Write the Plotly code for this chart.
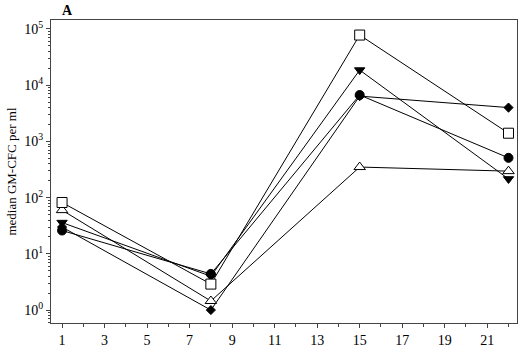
import plotly.graph_objects as go

days = [1, 8, 15, 22]
square_vals = [82, 2.9, 78000, 1400]
tri_up_vals = [60, 1.45, 350, 296]
tri_down_vals = [36, 4.0, 18600, 215]
circle_vals = [26, 4.4, 6700, 510]
diamond_vals = [30, 1.0, 6400, 4000]

x_tick_vals = [1, 3, 5, 7, 9, 11, 13, 15, 17, 19, 21]
y_tick_vals = [1, 10, 100, 1000, 10000, 100000]
y_tick_text = ["10<sup>0</sup>", "10<sup>1</sup>", "10<sup>2</sup>", "10<sup>3</sup>",
               "10<sup>4</sup>", "10<sup>5</sup>"]

series = [
    (diamond_vals, "diamond", "black", 7),
    (circle_vals, "circle", "black", 9),
    (tri_down_vals, "triangle-down", "black", 9),
    (tri_up_vals, "triangle-up", "white", 10),
    (square_vals, "square", "white", 10),
]

fig = go.Figure()
for vals, sym, col, sz in series:
    fig.add_trace(go.Scatter(
        x=days, y=vals, mode="lines+markers",
        line=dict(color="black", width=1),
        marker=dict(symbol=sym, color=col, size=sz, line=dict(color="black", width=1)),
        showlegend=False, cliponaxis=False,
    ))

font_family = "Liberation Serif, Times New Roman, serif"
fig.update_layout(
    width=520, height=349,
    margin=dict(l=51, r=3, t=20, b=26),
    plot_bgcolor="white", paper_bgcolor="white",
    font=dict(family=font_family, size=14, color="black"),
)
fig.update_xaxes(
    range=[0.48, 22.4], tickvals=x_tick_vals, ticks="outside", ticklen=4,
    tickcolor="#444", showline=True, linecolor="#444", linewidth=1, mirror=True,
    showgrid=False, zeroline=False, automargin=False,
    minor=dict(dtick=1, tick0=0, ticks="outside", ticklen=3, tickcolor="#444"),
    tickfont=dict(size=14),
)
fig.update_yaxes(
    type="log", range=[-0.23, 5.16], tickvals=y_tick_vals, ticktext=y_tick_text,
    ticks="outside", ticklen=4, tickcolor="#444",
    showline=True, linecolor="#444", linewidth=1, mirror=True,
    showgrid=False, zeroline=False, automargin=False,
    minor=dict(dtick="D1", ticks="outside", ticklen=2, tickcolor="#444"),
    title=dict(text="median GM-CFC per ml", font=dict(size=13), standoff=4),
    tickfont=dict(size=14),
)
fig.add_annotation(text="<b>A</b>", xref="paper", yref="paper", x=0.02, y=1.0,
                   yanchor="bottom", xanchor="left", showarrow=False,
                   font=dict(size=14, family=font_family))
fig.write_html("out.html", config={"displayModeBar": False},
               post_script="document.body.style.margin='0';document.body.style.overflow='hidden';")
